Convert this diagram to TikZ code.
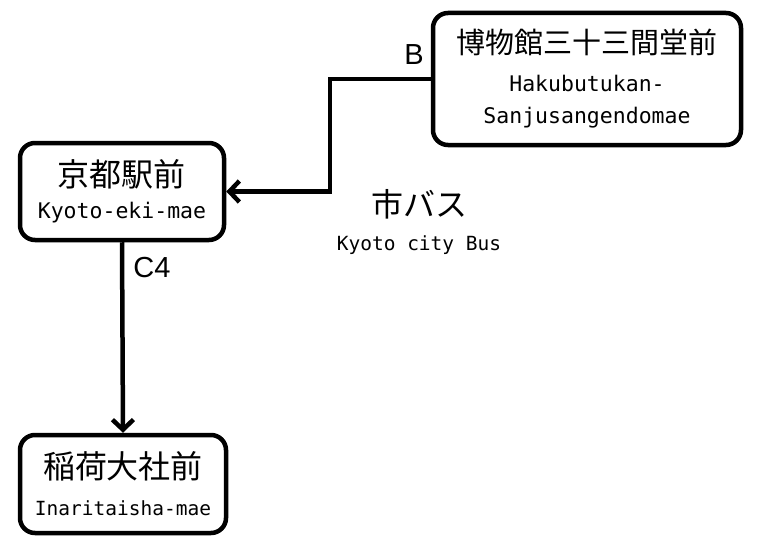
\documentclass[tikz,border=0pt]{standalone}
\usepackage{fontspec}
\setmainfont{Liberation Sans}
\newfontfamily\jpfont{Noto Sans CJK JP}
\newfontfamily\romfont{DejaVu Sans Mono}
\usetikzlibrary{positioning,arrows.meta}
\definecolor{cLine}{RGB}{0,0,0}
\definecolor{cFill}{RGB}{255,255,255}
\newcommand{\jp}[1]{{\jpfont\fontsize{32}{32}\selectfont #1}}
\newcommand{\jps}[1]{{\jpfont\fontsize{29}{32}\selectfont #1}}
\newcommand{\rom}[1]{{\romfont\fontsize{21.5}{32}\selectfont #1}}
\newcommand{\roms}[1]{{\romfont\fontsize{19.5}{32}\selectfont #1}}
\tikzset{
  stop/.style={
    rectangle, rounded corners=15pt, draw=cLine, line width=4.5pt,
    fill=cFill, align=center, inner sep=0pt,
    font=\fontsize{21.5}{32}\selectfont,
  },
  route/.style={font=\fontsize{29}{30}\selectfont, text=cLine},
  bus/.style={-{Straight Barb[length=10pt,width=21pt]}, line width=4.5pt, draw=cLine},
}

\begin{document}
\begin{tikzpicture}[x=1pt,y=-1pt]
\useasboundingbox (0,0) rectangle (764,551);

% ===== stops =====
\node[stop, minimum width=204pt, minimum height=97pt]
  (kyoto) at (122,191.5)
  {\jp{京都駅前}\\\rom{Kyoto-eki-mae}};
\node[stop, minimum width=308pt, minimum height=132pt]
  (haku) at (587,79)
  {\jps{博物館三十三間堂前}\\[6pt]\rom{Hakubutukan-}\\\rom{Sanjusangendomae}};
\node[stop, minimum width=206pt, minimum height=98pt]
  (inari) at (123,484)
  {\jp{稲荷大社前}\\[5pt]\roms{Inaritaisha-mae}};

% ===== legend =====
\node[align=center, font=\fontsize{19.5}{34}\selectfont] (legend) at (419,222)
  {\jp{市バス}\\\roms{Kyoto city Bus}};

% ===== routes =====
\coordinate (bend) at (330,79);
\draw[bus] (haku.west) -- (bend) |- (kyoto.east);
\node[route] (lblB) at (414,55) {B};
\draw[bus] (kyoto.south) -- (inari.north);
\node[route] (lblC) at (152,268) {C4};

\end{tikzpicture}
\end{document}
